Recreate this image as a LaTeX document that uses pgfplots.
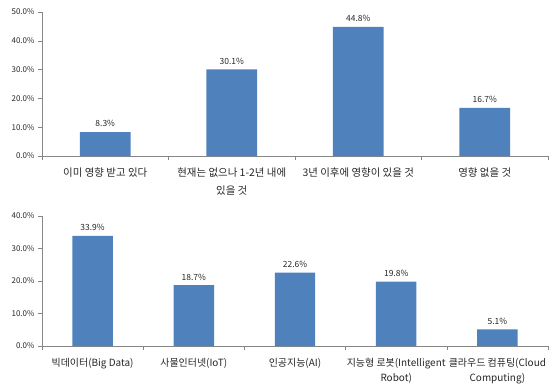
\documentclass[border=0pt]{standalone}
\usepackage{fontspec}
\setmainfont{Noto Sans CJK KR}
\usepackage{pgfplots}
\pgfplotsset{compat=1.18}
\definecolor{barblue}{HTML}{4F81BD}
\definecolor{axgray}{HTML}{868686}
\definecolor{txt}{HTML}{262626}
\pgfplotsset{mystyle/.style={
  scale only axis, width=506bp, anchor=south west,
  axis x line=bottom, axis y line=left, axis line style={-,axgray},
  xmin=0, ymin=0, enlargelimits=false, clip=false,
  ybar, bar width=0.4,
  tick align=outside, major tick length=4bp, minor tick length=4bp,
  tick style={axgray, thin},
  major x tick style={draw=none},
  ytick distance=10,
  /pgf/number format/assume math mode=true,
  yticklabel={\pgfmathprintnumber[fixed,fixed zerofill,precision=1]{\tick}\%},
  yticklabel style={font=\fontsize{8}{9}\selectfont, text=txt},
  xticklabel style={text=txt, align=center, yshift=-4bp},
  nodes near coords={\pgfmathprintnumber[fixed,fixed zerofill,precision=1]{\pgfplotspointmeta}\%},
  every node near coord/.append style={font=\fontsize{8.5}{9}\selectfont, text=txt, yshift=1.5bp},
}}
\begin{document}
\begin{tikzpicture}
\useasboundingbox (0bp,0bp) rectangle (560bp,-389bp);
\begin{axis}[mystyle, at={(42bp,-156bp)}, height=144bp, xmax=4, ymax=50,
  xtick={0.5,1.5,2.5,3.5}, minor xtick={0,1,2,3,4},
  xticklabel style={font=\fontsize{10.5}{18}\selectfont},
  xticklabels={{이미 영향 받고 있다},{현재는 없으나 1-2년 내에\\있을 것},{3년 이후에 영향이 있을 것},{영향 없을 것}}]
\addplot[fill=barblue, draw=none] coordinates {(0.5,8.3) (1.5,30.1) (2.5,44.8) (3.5,16.7)};
\end{axis}
\begin{axis}[mystyle, at={(42bp,-346bp)}, height=130bp, xmax=5, ymax=40,
  xtick={0.5,1.5,2.5,3.5,4.5}, minor xtick={0,1,2,3,4,5},
  xticklabel style={font=\fontsize{10}{15}\selectfont, yshift=-1bp},
  xticklabels={{빅데이터(Big Data)},{사물인터넷(IoT)},{인공지능(AI)},{지능형 로봇(Intelligent\\Robot)},{클라우드 컴퓨팅(Cloud\\Computing)}}]
\addplot[fill=barblue, draw=none] coordinates {(0.5,33.9) (1.5,18.7) (2.5,22.6) (3.5,19.8) (4.5,5.1)};
\end{axis}
\end{tikzpicture}
\end{document}
